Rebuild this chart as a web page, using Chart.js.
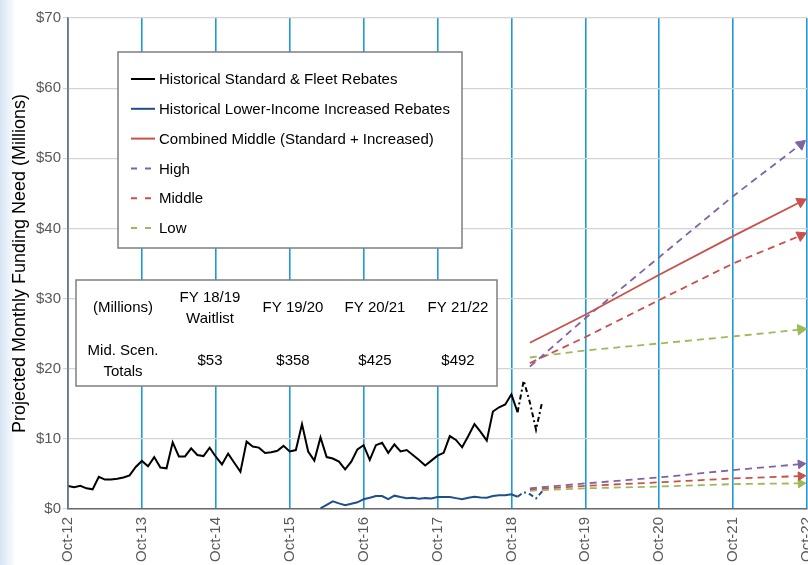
<!DOCTYPE html>
<html>
<head>
<meta charset="utf-8">
<script src="https://cdn.jsdelivr.net/npm/chart.js@4"></script>
<style>
    body {
        margin: 0;
        overflow: hidden;
        background: linear-gradient(to right, #d6e4f3 0px, #ffffff 16px);
    }
    #wrap {
        position: relative;
        width: 833px;
        height: 565px;
    }
</style>
</head>
<body>
<div id="wrap"><canvas id="fundingChart"></canvas></div>
<script>
// x values are months counted from Oct-12
const tickLabels = ['Oct-12', 'Oct-13', 'Oct-14', 'Oct-15', 'Oct-16', 'Oct-17', 'Oct-18', 'Oct-19', 'Oct-20', 'Oct-21', 'Oct-22'];

const standardStart = 0;
const standardValues = [3.3, 3.1, 3.3, 2.95, 2.8, 4.6, 4.2, 4.2, 4.3, 4.5, 4.8, 6.0, 6.85, 6.1, 7.4, 5.9, 5.8, 9.5, 7.5, 7.5,
    8.65, 7.7, 7.55, 8.75, 7.45, 6.35, 7.9, 6.6, 5.3, 9.6, 8.9, 8.75, 8.0, 8.1, 8.3, 9.0, 8.2, 8.4, 12.1, 8.2,
    6.9, 10.2, 7.4, 7.2, 6.75, 5.65, 6.75, 8.5, 9.1, 7.0, 9.1, 9.45, 8.0, 9.2, 8.2, 8.4, 7.7, 7.0, 6.2, 6.9,
    7.6, 8.0, 10.4, 9.85, 8.8, 10.4, 12.1, 11.0, 9.75, 13.9, 14.5, 14.9, 16.35, 13.8];
const standardTailMonths = [73, 74, 75, 76, 77];
const standardTailValues = [13.8, 18.3, 15.2, 11.3, 15.3];

const increasedStart = 41;
const increasedValues = [0.1, 0.6, 1.1, 0.8, 0.55, 0.75, 0.95, 1.4, 1.6, 1.85, 1.85, 1.4, 1.9, 1.7, 1.55, 1.6, 1.45,
    1.55, 1.5, 1.7, 1.7, 1.7, 1.55, 1.4, 1.6, 1.75, 1.65, 1.6, 1.85, 1.95, 1.95, 2.1, 1.75];
const increasedTailMonths = [73, 74, 75, 76, 77];
const increasedTailValues = [1.75, 2.4, 2.1, 1.5, 2.5];

const projMonths = [75, 84, 96, 108, 119];
const combinedMiddle = [23.7, 27.7, 33.4, 38.9, 43.8];
const highUpper = [20.3, 27.2, 35.9, 44.6, 52.0];
const middleUpper = [20.8, 24.5, 29.8, 35.0, 39.0];
const lowUpper = [21.6, 22.6, 23.6, 24.6, 25.6];
const highLower = [2.95, 3.65, 4.5, 5.55, 6.4];
const middleLower = [2.8, 3.3, 3.8, 4.35, 4.7];
const lowLower = [2.6, 2.95, 3.2, 3.55, 3.65];

const legendNames = ['Historical Standard & Fleet Rebates', 'Historical Lower-Income Increased Rebates',
    'Combined Middle (Standard + Increased)', 'High', 'Middle', 'Low'];

const tableHead = [['(Millions)'], ['FY 18/19', 'Waitlist'], ['FY 19/20'], ['FY 20/21'], ['FY 21/22']];
const tableRow = [['Mid. Scen.', 'Totals'], ['$53'], ['$358'], ['$425'], ['$492']];

const black = '#000000';
const navy = '#1f4e8c';
const red = '#c9504b';
const purple = '#8064a2';
const green = '#9bbb59';
const dash = [7, 5];

function points(xs, ys) {
    return ys.map(function (v, i) {
        return { x: xs[i], y: v };
    });
}

function monthly(start, ys) {
    return ys.map(function (v, i) {
        return { x: start + i, y: v };
    });
}

function arrowLine(label, values, color, dashed, rot, size) {
    let n = values.length;
    let radius = values.map(function (v, i) { return i == n - 1 ? size : 0; });
    let rotation = values.map(function (v, i) { return i == n - 1 ? rot : 0; });
    return {
        label: label,
        data: points(projMonths, values),
        borderColor: color,
        backgroundColor: color,
        borderWidth: 1.8,
        borderDash: dashed ? dash : [],
        pointStyle: 'triangle',
        pointRadius: radius,
        pointRotation: rotation,
        pointBorderWidth: 1,
        pointHoverRadius: 0,
        tension: 0,
        clip: false
    };
}

let datasets = [
    {
        label: legendNames[0],
        data: monthly(standardStart, standardValues),
        borderColor: black,
        borderWidth: 2,
        pointRadius: 0,
        tension: 0
    },
    {
        label: legendNames[1],
        data: monthly(increasedStart, increasedValues),
        borderColor: navy,
        borderWidth: 2,
        pointRadius: 0,
        tension: 0
    },
    arrowLine(legendNames[2], combinedMiddle, red, false, 63, 6),
    arrowLine(legendNames[3], highUpper, purple, true, 50, 6),
    arrowLine(legendNames[4], middleUpper, red, true, 65, 6),
    arrowLine(legendNames[5], lowUpper, green, true, 84, 6),
    arrowLine('', highLower, purple, true, 84, 5),
    arrowLine('', middleLower, red, true, 86, 5),
    arrowLine('', lowLower, green, true, 87, 5),
    {
        label: '',
        data: points(standardTailMonths, standardTailValues),
        borderColor: black,
        borderWidth: 2,
        borderDash: [5, 3, 2, 3],
        pointRadius: 0,
        tension: 0
    },
    {
        label: '',
        data: points(increasedTailMonths, increasedTailValues),
        borderColor: navy,
        borderWidth: 2,
        borderDash: [5, 3, 2, 3],
        pointRadius: 0,
        tension: 0
    }
];

// legend box and the totals table drawn on the canvas
const boxesPlugin = {
    id: 'boxes',
    afterDatasetsDraw(chart) {
        let ctx = chart.ctx;
        let area = chart.chartArea;
        ctx.save();
        // y axis line drawn again over the first blue grid line
        ctx.strokeStyle = '#6f7b84';
        ctx.lineWidth = 1.5;
        ctx.beginPath();
        ctx.moveTo(area.left, area.top);
        ctx.lineTo(area.left, area.bottom);
        ctx.stroke();

        ctx.fillStyle = '#ffffff';
        ctx.strokeStyle = '#7f7f7f';
        ctx.lineWidth = 1.5;
        ctx.fillRect(118, 52, 344, 196);
        ctx.strokeRect(118, 52, 344, 196);

        ctx.font = '15px "Liberation Sans", Arial, sans-serif';
        ctx.textBaseline = 'middle';
        ctx.textAlign = 'left';
        for (let i = 0; i < legendNames.length; i++) {
            let ds = chart.data.datasets[i];
            let y = 79 + i * 29.8;
            ctx.strokeStyle = ds.borderColor;
            ctx.lineWidth = 2;
            ctx.setLineDash(ds.borderDash && ds.borderDash.length ? [6, 8] : []);
            ctx.beginPath();
            ctx.moveTo(131, y);
            ctx.lineTo(155, y);
            ctx.stroke();
            ctx.setLineDash([]);
            ctx.fillStyle = '#000000';
            ctx.fillText(legendNames[i], 159, y + 1);
        }

        ctx.fillStyle = '#ffffff';
        ctx.strokeStyle = '#7f7f7f';
        ctx.lineWidth = 1.5;
        ctx.fillRect(76, 280, 421, 106);
        ctx.strokeRect(76, 280, 421, 106);

        let colX = [123, 210, 293, 375, 458];
        ctx.fillStyle = '#000000';
        ctx.textAlign = 'center';
        for (let c = 0; c < colX.length; c++) {
            let head = tableHead[c];
            let row = tableRow[c];
            for (let k = 0; k < head.length; k++) {
                ctx.fillText(head[k], colX[c], 308 + (k - (head.length - 1) / 2) * 21);
            }
            for (let k = 0; k < row.length; k++) {
                ctx.fillText(row[k], colX[c], 361 + (k - (row.length - 1) / 2) * 21);
            }
        }
        ctx.restore();
    }
};

let chartData = {
    type: 'line',
    data: { datasets: datasets },
    options: {
        responsive: true,
        maintainAspectRatio: false,
        animation: false,
        layout: { padding: { top: 18, right: 0, left: 0, bottom: 0 } },
        plugins: {
            legend: { display: false },
            tooltip: { enabled: false }
        },
        scales: {
            x: {
                type: 'linear',
                min: 0,
                max: 120,
                afterFit: function (scale) { scale.height = 56; },
                grid: { color: '#1e9ad8', lineWidth: 1.6, drawTicks: false },
                border: { color: '#6a6a6a', width: 1.5 },
                ticks: {
                    stepSize: 12,
                    autoSkip: false,
                    minRotation: 90,
                    maxRotation: 90,
                    padding: 8,
                    color: '#595959',
                    font: { family: '"Liberation Sans", Arial, sans-serif', size: 15 },
                    callback: function (v) { return tickLabels[v / 12]; }
                }
            },
            y: {
                min: 0,
                max: 70,
                afterFit: function (scale) { scale.width = 68; },
                grid: { color: '#d4d4d4', lineWidth: 1.2, tickLength: 5 },
                border: { color: '#6a7a86', width: 1.2 },
                ticks: {
                    stepSize: 10,
                    padding: 2,
                    color: '#595959',
                    font: { family: '"Liberation Sans", Arial, sans-serif', size: 15 },
                    callback: function (v) { return '$' + v; }
                },
                title: {
                    display: true,
                    text: 'Projected Monthly Funding Need (Millions)',
                    color: '#000000',
                    padding: { top: 9, bottom: 2 },
                    font: { family: '"Liberation Sans", Arial, sans-serif', size: 18 }
                }
            }
        }
    },
    plugins: [boxesPlugin]
};

let fundingChart = new Chart(document.getElementById('fundingChart'), chartData);
</script>
</body>
</html>
